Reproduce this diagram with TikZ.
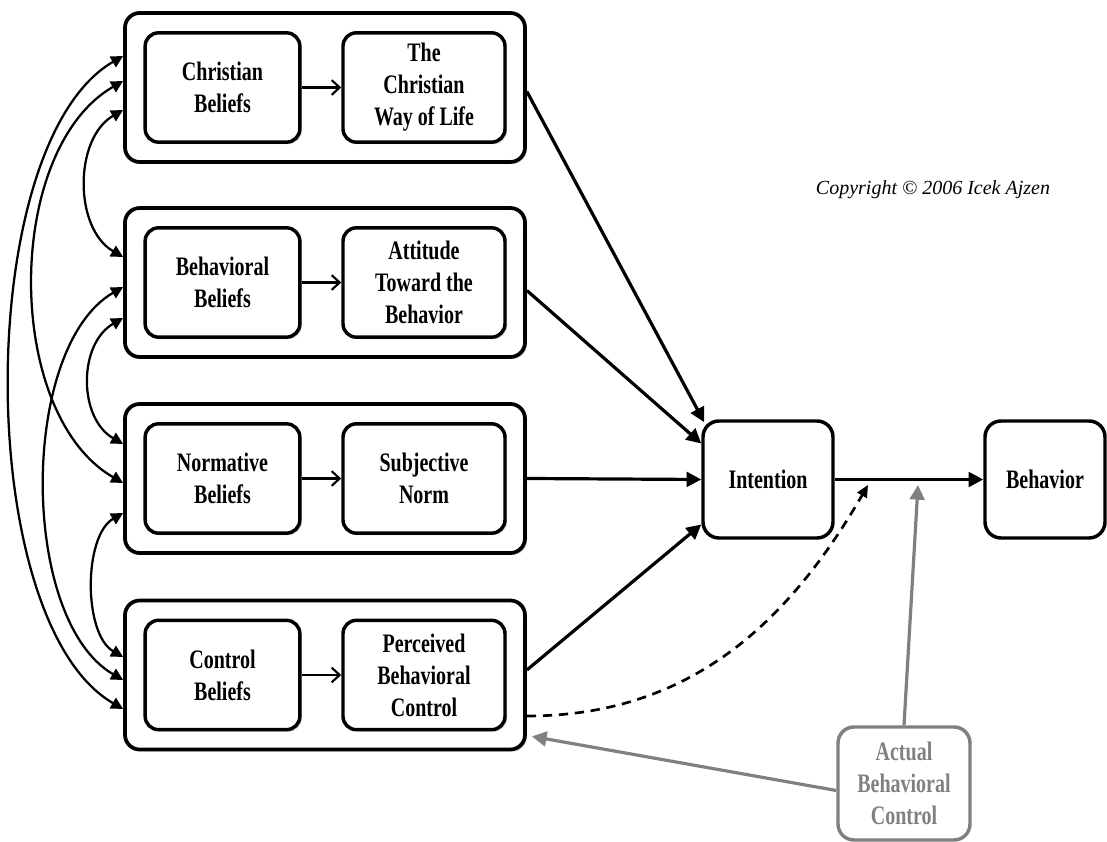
\documentclass[tikz,border=0pt]{standalone}
\usepackage{fontspec}
\setmainfont{Liberation Serif}
\newfontfamily\boxfont[FakeStretch=0.75]{Liberation Serif}
\usetikzlibrary{arrows.meta}
\usetikzlibrary{calc}
\usetikzlibrary{shadows}
\tikzset{
	boxshadow/.style={drop shadow={shadow xshift=1.5pt,shadow yshift=-1.5pt,opacity=0.35}},
	groupbox/.style={shape=rectangle,draw,line width=2.8pt,rounded corners=11pt,minimum width=300pt,minimum height=111.75pt,fill=white,boxshadow},
	beliefbox/.style={shape=rectangle,draw,line width=2.6pt,rounded corners=10pt,minimum height=82pt,align=center,fill=white,boxshadow,font={\fontsize{20}{24}\boxfont\bfseries}},
	mainbox/.style={shape=rectangle,draw,line width=2.6pt,rounded corners=12pt,minimum height=87.75pt,align=center,fill=white,font={\fontsize{20}{24}\boxfont\bfseries}},
	greybox/.style={mainbox,draw=gray,text=gray,minimum height=84.75pt},
	smallarrow/.style={line width=1.6pt,-{Straight Barb[length=6pt,width=11pt]}},
	link/.style={line width=2.4pt,-{Triangle[length=11pt,width=11pt]}},
	greylink/.style={link,draw=gray,line width=2.4pt},
	dashlink/.style={line width=2pt,dashed,dash pattern=on 7pt off 5pt,-{Triangle[length=9pt,width=8pt]}},
	bothways/.style={line width=1.7pt,{Triangle[length=9pt,width=9pt]}-{Triangle[length=9pt,width=9pt]}}
}
\newcommand{\drawgroup}[4]{
	\draw (325,#1) node (#2) [groupbox] {};
	\draw (222.5,#1) node (#2l) [beliefbox,minimum width=116pt] {#3};
	\draw (424,#1) node (#2r) [beliefbox,minimum width=121.5pt] {#4};
	\draw[smallarrow] (#2l) -- (#2r);
}

\begin{document}
\begin{tikzpicture}[x=0.75pt,y=0.75pt]
	\useasboundingbox (0,0) rectangle (1107,842);
	\drawgroup{754.5}{g1}{Christian\\Beliefs}{The\\Christian\\Way of Life};
	\drawgroup{559.5}{g2}{Behavioral\\Beliefs}{Attitude\\Toward the\\Behavior};
	\drawgroup{363.5}{g3}{Normative\\Beliefs}{Subjective\\Norm};
	\drawgroup{167}{g4}{Control\\Beliefs}{Perceived\\Behavioral\\Control};
	\draw (768,362.5) node (int) [mainbox,minimum width=97.5pt] {Intention};
	\draw (1045,362.5) node (beh) [mainbox,minimum width=90pt] {Behavior};
	\draw (904,58.5) node (abc) [greybox,minimum width=99pt] {Actual\\Behavioral\\Control};
	\draw (933,652) node (copy) {\fontsize{15}{18}\selectfont\itshape Copyright © 2006 Icek Ajzen};
	% paths into intention
	\draw[link] ($(g1.east)+(0,-4)$) -- ($(int.north west)+(3,-3)$);
	\draw[link] ($(g2.east)+(0,-8)$) -- ($(int.west)+(0,36)$);
	\draw[link] (g3.east) -- (int.west);
	\draw[link] ($(g4.east)+(0,5)$) -- ($(int.west)+(0,-45)$);
	\draw[link] (int) -- (beh);
	% actual control
	\coordinate (dashend) at (868,357);
	\coordinate (greyend) at (918,357);
	\draw[dashlink] ($(g4.east)+(0,-41)$) to[out=0,in=240] (dashend);
	\draw[greylink] (abc.north) -- (greyend);
	\draw[greylink] ($(abc.west)+(0,-7)$) -- ($(g4.south east)+(5,15)$);
	% correlations between the belief groups
	\foreach \a/\b/\c/\d/\l in {g1/-22.5/g2/25.5/57, g2/-35.5/g3/34.5/52, g3/-34.5/g4/18/46, g1/6.5/g3/-4.5/138, g2/-4.5/g4/-5/120, g1/31.5/g4/-34/174} {
		\draw[bothways] ($(\a.west)+(0,\b)$) .. controls +(210:\l) and +(150:\l) .. ($(\c.west)+(0,\d)$);
	}
\end{tikzpicture}
\end{document}
